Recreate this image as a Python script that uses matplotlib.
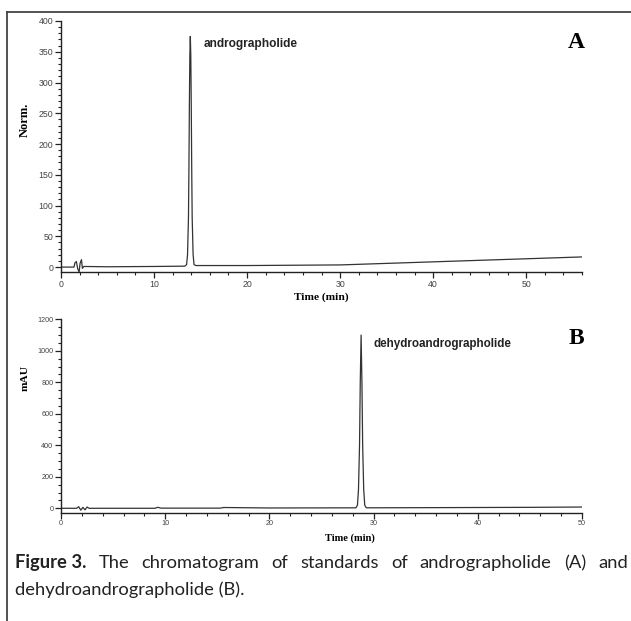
import matplotlib
matplotlib.use("Agg")
import matplotlib.pyplot as plt
from matplotlib.lines import Line2D
from matplotlib.ticker import MultipleLocator

# --- data (time in min, signal) ---
time_a = [0, 1.4, 1.5, 1.65, 1.8, 1.95, 2.05, 2.2, 2.3, 2.45, 5, 10,
          13.3, 13.5, 13.6, 13.7, 13.75, 13.8, 13.85, 13.9, 13.95, 14.0,
          14.05, 14.1, 14.2, 14.3, 14.5, 20, 30, 40, 50, 56]
norm_a = [0, 0, 7, 9, -3, -8, 6, 12, -2, 1, 0.5, 1,
          1.5, 4, 20, 80, 160, 265, 345, 375, 345, 265,
          160, 80, 20, 4, 2.5, 2.5, 3.5, 8.5, 13.5, 16.5]

time_b = [0, 1.5, 1.7, 1.9, 2.1, 2.3, 2.5, 2.7, 9.0, 9.3, 9.6, 15.3, 15.6,
          20, 28.3, 28.45, 28.55, 28.65, 28.72, 28.8, 28.88, 28.95, 29.05,
          29.15, 29.3, 35, 45, 50]
mau_b = [0, 0, 10, -12, 6, -10, 8, 0, 0, 6, 1, 1, 5,
         2, 3, 20, 120, 400, 800, 1100, 800, 400, 120,
         20, 3, 4, 6, 8]

peak_a = "andrographolide"
peak_b = "dehydroandrographolide"

fig = plt.figure(figsize=(6.31, 6.21), dpi=100)
W, H = 631, 621


def fx(px):
    return px / W


def fy(py):
    return 1 - py / H


tick_col = "#444444"
line_col = "#333333"


def style_axis(ax, label_size):
    for s in ("top", "right"):
        ax.spines[s].set_visible(False)
    for s in ("left", "bottom"):
        ax.spines[s].set_linewidth(1.0)
        ax.spines[s].set_color("#222222")
    ax.tick_params(which="major", direction="out", length=4, width=0.9,
                   labelsize=label_size, labelcolor=tick_col, color="#222222", pad=1.5)
    ax.tick_params(which="minor", direction="out", length=2.5, width=0.8, color="#222222")
    for lab in ax.get_xticklabels() + ax.get_yticklabels():
        lab.set_fontfamily("Liberation Sans")


# --- panel A ---
axA = fig.add_axes([fx(61), fy(272), fx(582 - 61), fy(21) - fy(272)])
axA.plot(time_a, norm_a, color=line_col, lw=0.9)
axA.set_xlim(0, 56)
axA.set_ylim(-8, 400)
axA.xaxis.set_major_locator(MultipleLocator(10))
axA.xaxis.set_minor_locator(MultipleLocator(2))
axA.yaxis.set_major_locator(MultipleLocator(50))
axA.yaxis.set_minor_locator(MultipleLocator(10))
style_axis(axA, 6.3)
axA.text(15.3, 362, peak_a, fontsize=8.6, fontweight="bold",
         family="Liberation Sans", va="center", ha="left", color="#222222")
fig.text(fx(568), fy(43), "A", fontsize=17, fontweight="bold",
         family="Liberation Serif", va="center", ha="left")
fig.text(fx(321), fy(297), "Time (min)", fontsize=8.2, fontweight="bold",
         family="Liberation Serif", va="center", ha="center")
fig.text(fx(25), fy(120), "Norm.", fontsize=9, fontweight="bold",
         family="Liberation Serif", va="center", ha="center", rotation=90)

# --- panel B ---
axB = fig.add_axes([fx(61), fy(512.7), fx(582 - 61), fy(319.3) - fy(512.7)])
axB.plot(time_b, mau_b, color=line_col, lw=0.9)
axB.set_xlim(0, 50)
axB.set_ylim(-28, 1200)
axB.xaxis.set_major_locator(MultipleLocator(10))
axB.xaxis.set_minor_locator(MultipleLocator(2))
axB.yaxis.set_major_locator(MultipleLocator(200))
axB.yaxis.set_minor_locator(MultipleLocator(50))
style_axis(axB, 5.2)
axB.text(30.0, 1045, peak_b, fontsize=8.4, fontweight="bold",
         family="Liberation Sans", va="center", ha="left", color="#222222")
fig.text(fx(569), fy(338), "B", fontsize=17, fontweight="bold",
         family="Liberation Serif", va="center", ha="left")
fig.text(fx(350), fy(538), "Time (min)", fontsize=7.6, fontweight="bold",
         family="Liberation Serif", va="center", ha="center")
fig.text(fx(25), fy(378), "mAU", fontsize=8.2, fontweight="bold",
         family="Liberation Serif", va="center", ha="center", rotation=90)

# --- frame lines (top and left) ---
fig.add_artist(Line2D([fx(7), 1], [fy(12), fy(12)], transform=fig.transFigure,
                      color="#444444", lw=1.3))
fig.add_artist(Line2D([fx(7), fx(7)], [fy(12), 0], transform=fig.transFigure,
                      color="#444444", lw=1.3))

# --- caption, first line justified ---
cap_font = dict(family="Lato", fontsize=13.2, color="#222222", va="baseline")
line1 = ["The", "chromatogram", "of", "standards", "of", "andrographolide", "(A)", "and"]
renderer = fig.canvas.get_renderer()
x0, x1 = 15, 628
base1 = 568
t = fig.text(fx(x0), fy(base1), "Figure 3.", fontweight="bold", **cap_font)
widths = [t.get_window_extent(renderer).width]
word_objs = [t]
for w in line1:
    tw = fig.text(0, fy(base1), w, **cap_font)
    word_objs.append(tw)
    widths.append(tw.get_window_extent(renderer).width)
gap = (x1 - x0 - sum(widths)) / (len(word_objs) - 1)
xpos = x0
for obj, wd in zip(word_objs, widths):
    obj.set_x(fx(xpos))
    xpos += wd + gap
fig.text(fx(x0), fy(595), "dehydroandrographolide (B).", **cap_font)

fig.savefig("out.png", dpi=100)
